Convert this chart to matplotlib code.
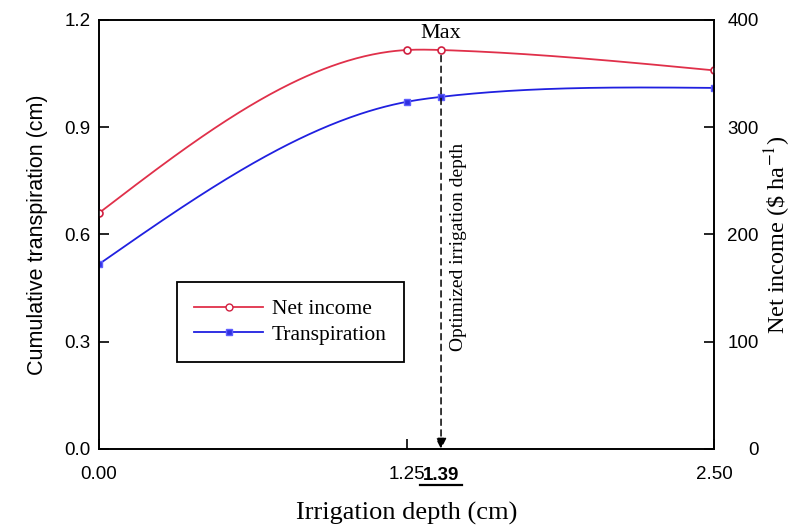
import numpy as np
import matplotlib.pyplot as plt
from matplotlib.lines import Line2D
import matplotlib.transforms as mtransforms

plt.rcParams["mathtext.fontset"] = "stix"

# data
depth = [0.00, 1.25, 1.39, 2.50]
transpiration = [0.517, 0.971, 0.985, 1.010]
net_income = [220, 372, 372, 353]
opt_depth = 1.39

SERIF = "Liberation Serif"
SANS = "Liberation Sans"


def natural_spline(xs, ys, num=300):
    # natural cubic spline through the points, only used to draw the line
    x = np.asarray(xs, float)
    y = np.asarray(ys, float)
    n = len(x)
    h = np.diff(x)
    A = np.zeros((n, n))
    b = np.zeros(n)
    A[0, 0] = A[-1, -1] = 1.0
    for i in range(1, n - 1):
        A[i, i - 1] = h[i - 1]
        A[i, i] = 2 * (h[i - 1] + h[i])
        A[i, i + 1] = h[i]
        b[i] = 6 * ((y[i + 1] - y[i]) / h[i] - (y[i] - y[i - 1]) / h[i - 1])
    m = np.linalg.solve(A, b)
    xx = np.linspace(x[0], x[-1], num)
    idx = np.clip(np.searchsorted(x, xx) - 1, 0, n - 2)
    x0, x1 = x[idx], x[idx + 1]
    hh = x1 - x0
    t0, t1 = x1 - xx, xx - x0
    yy = (m[idx] * t0 ** 3 + m[idx + 1] * t1 ** 3) / (6 * hh) \
        + (y[idx] / hh - m[idx] * hh / 6) * t0 \
        + (y[idx + 1] / hh - m[idx + 1] * hh / 6) * t1
    return xx, yy


fig = plt.figure(figsize=(7.98, 5.26), dpi=100)
ax = fig.add_axes([0.124, 0.1464, 0.771, 0.8156])
ax2 = ax.twinx()

# transpiration on left axis
ax.plot(*natural_spline(depth, transpiration), color="#2020e0", lw=1.3)
ax.plot(depth, transpiration, ls="none", marker="s", ms=5,
        color="#3030e0", mec="#6060ff")

# net income on right axis
ax2.plot(*natural_spline(depth, net_income), color="#e0304a", lw=1.3)
ax2.plot(depth, net_income, ls="none", marker="o", ms=5,
         mfc="white", mec="#d02040", mew=1.2)

ax.set_xlim(0, 2.5)
ax.set_ylim(0, 1.2)
ax2.set_ylim(0, 400)
ax.set_yticks([0.0, 0.3, 0.6, 0.9, 1.2])
ax.set_yticklabels(["0.0", "0.3", "0.6", "0.9", "1.2"])
ax2.set_yticks([0, 100, 200, 300, 400])
ax.set_xticks([0.0, 1.25, 2.5])
ax.set_xticklabels(["0.00", "1.25", "2.50"])

for a in (ax, ax2):
    a.tick_params(direction="in", length=7, width=1.2, labelsize=13.5, pad=6)
    for s in a.spines.values():
        s.set_linewidth(1.2)
ax.tick_params(axis="x", pad=12)
# right labels are right aligned in the reference
ax2.tick_params(axis="y", pad=32)
for lab in ax2.get_yticklabels():
    lab.set_horizontalalignment("right")
for lab in ax.get_xticklabels() + ax.get_yticklabels() + ax2.get_yticklabels():
    lab.set_fontfamily(SANS)

ax.set_xlabel("Irrigation depth (cm)", fontfamily=SERIF, fontsize=19, labelpad=14)
ax.set_ylabel("Cumulative transpiration (cm)", fontfamily=SANS, fontsize=15.5, labelpad=12)
ax2.set_ylabel(r"Net income (\$ ha$^{-1}$)", fontfamily=SERIF, fontsize=17.5, labelpad=3)

# optimized depth: bold underlined label under the axis
trans = mtransforms.blended_transform_factory(ax.transData, ax.transAxes)
ax.text(opt_depth, -0.043, "1.39", transform=trans, ha="center", va="top",
        fontfamily=SANS, fontsize=13.5, fontweight="bold")
ax.add_line(Line2D([opt_depth - 0.085, opt_depth + 0.085], [-0.085, -0.085],
                   transform=trans, color="black", lw=1.6, clip_on=False))

# dashed arrow from the max point down to the axis
ax2.annotate("", xy=(opt_depth, 0), xytext=(opt_depth, net_income[2]),
             arrowprops=dict(arrowstyle="-|>", ls=(0, (4, 3)), color="black",
                             lw=1.1, mutation_scale=16, shrinkA=4, shrinkB=0))
ax2.text(opt_depth, 379, "Max", ha="center", va="bottom",
         fontfamily=SERIF, fontsize=16)
ax2.text(opt_depth + 0.07, 188, "Optimized irrigation depth", rotation=90,
         ha="center", va="center", fontfamily=SERIF, fontsize=14)

handles = [
    Line2D([], [], color="#e0304a", lw=1.3, marker="o", ms=5, mfc="white",
           mec="#d02040"),
    Line2D([], [], color="#2020e0", lw=1.3, marker="s", ms=5, mfc="#3030e0",
           mec="#6060ff"),
]
leg = ax.legend(handles, ["Net income", "Transpiration"], loc="lower left",
                bbox_to_anchor=(0.127, 0.203), borderaxespad=0,
                prop={"family": SERIF, "size": 15.5},
                fancybox=False, edgecolor="black", framealpha=1,
                handlelength=3.2, borderpad=0.8, labelspacing=0.25,
                handletextpad=0.4)
leg.get_frame().set_linewidth(1.3)

fig.savefig("out.png", dpi=100)
